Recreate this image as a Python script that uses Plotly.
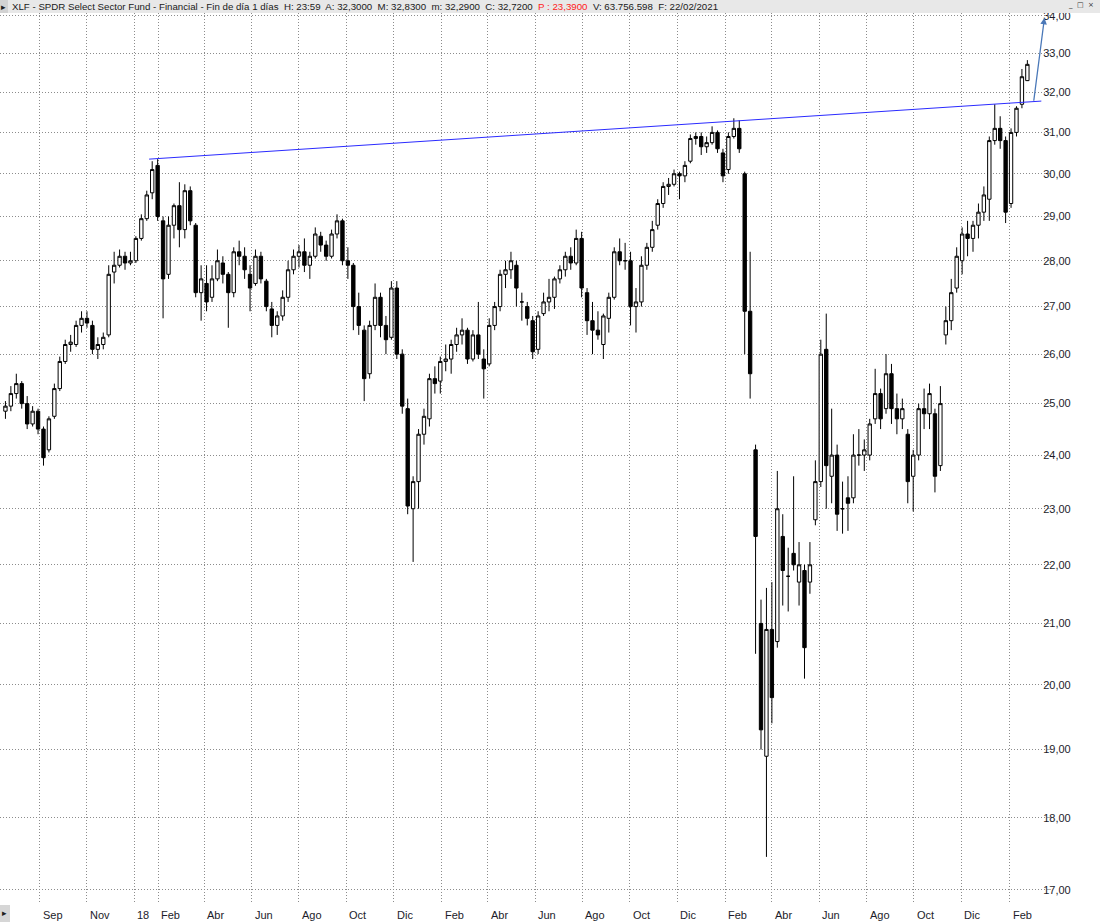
import math
import pandas as pd
import plotly.graph_objects as go

# ---------------- data (weekly candles) ----------------
week_first = "2017-07-19"
opens = [24.85,24.95,25.20,25.40,25.00,24.60,24.85,24.50,24.10,24.75,25.30,25.85,26.20,26.20,26.60,26.75,26.60,26.10,26.20,26.40,
         27.75,27.90,28.10,27.95,28.00,28.50,28.95,29.55,30.20,28.90,27.70,28.80,29.25,28.70,29.60,28.80,27.30,27.50,27.20,27.60,
         27.95,27.70,27.30,28.20,28.10,27.70,27.50,28.10,27.55,26.95,26.60,26.80,27.20,27.80,28.10,28.20,27.90,28.10,28.55,28.35,
         28.10,28.60,28.90,28.00,27.90,27.00,26.50,25.60,26.60,27.20,26.60,26.35,27.40,26.00,24.90,23.00,23.50,24.40,24.70,25.50,
         25.45,25.85,25.90,26.20,26.40,26.50,25.90,26.40,25.90,25.80,26.60,27.00,27.70,27.80,27.90,27.10,27.00,26.70,26.10,26.85,
         27.10,27.20,27.60,27.80,28.10,27.95,28.50,27.30,26.70,26.50,26.20,26.75,27.20,28.20,28.00,28.00,27.00,27.10,27.90,28.30,
         28.80,29.30,29.70,29.75,30.00,29.95,30.30,30.85,30.90,30.65,30.75,31.00,30.50,30.10,30.90,31.10,30.00,26.90,24.10,21.00,
         18.90,20.90,20.70,22.50,21.80,22.20,21.70,21.90,21.70,22.80,23.50,26.10,23.60,24.00,23.00,23.20,23.20,24.00,24.00,24.00,
         24.70,25.20,24.90,25.60,24.90,24.70,24.40,23.60,24.00,24.90,24.80,24.80,23.80,26.40,26.70,27.40,28.00,28.60,28.50,28.80,
         29.10,29.40,30.80,31.10,30.80,29.30,31.00,31.70,32.30]
highs = [25.05,25.35,25.60,25.45,25.15,24.95,24.90,24.55,24.75,25.40,25.95,26.30,26.40,26.70,26.90,26.90,26.70,26.35,26.45,27.90,
         28.20,28.25,28.20,28.20,28.55,29.05,29.60,30.30,30.35,29.00,29.00,29.30,29.80,29.75,29.70,28.85,27.90,27.90,27.90,28.25,
         28.10,27.75,28.30,28.45,28.30,27.90,28.25,28.20,27.60,27.10,26.90,27.35,28.00,28.25,28.35,28.50,28.20,28.75,28.65,28.45,
         28.70,29.05,28.95,28.30,27.95,27.30,26.60,26.70,27.50,27.30,26.80,27.55,27.55,26.10,25.10,23.60,24.50,24.90,25.60,25.75,
         25.95,26.20,26.30,26.55,26.75,26.55,26.50,27.10,26.10,26.75,27.10,27.80,28.00,28.20,28.00,27.30,27.10,26.80,26.90,27.30,
         27.60,27.65,27.90,28.20,28.30,28.70,28.65,27.40,27.10,26.90,26.85,27.30,28.30,28.50,28.40,28.20,27.40,28.10,28.40,28.90,
         29.40,29.80,29.90,30.10,30.05,30.30,30.95,31.00,31.00,30.90,31.15,31.05,30.60,31.00,31.35,31.30,30.05,28.20,24.20,21.40,
         21.60,21.70,23.70,22.90,22.30,23.60,22.40,22.00,22.40,23.90,26.30,26.85,24.90,24.20,23.50,23.60,24.40,24.50,24.30,24.70,
         25.70,25.30,26.00,25.80,25.20,25.10,24.50,24.10,25.00,25.30,25.40,24.90,25.35,27.00,27.60,28.30,28.75,28.90,28.90,29.30,
         29.70,30.90,31.70,31.40,30.90,31.10,31.65,32.60,32.83]
lows = [24.70,24.85,25.10,24.90,24.50,24.55,24.40,23.80,24.05,24.70,25.25,25.80,26.05,26.15,26.45,26.55,26.00,25.90,26.10,26.35,
        27.50,27.85,27.80,27.90,27.95,28.45,28.90,29.40,28.90,26.75,27.60,28.50,28.30,28.50,28.80,27.20,26.70,26.90,27.10,27.55,
        27.50,26.55,27.20,27.90,27.60,26.90,27.45,27.50,26.90,26.35,26.40,26.70,27.10,27.70,27.85,27.75,27.60,28.05,28.20,28.00,
        28.05,28.50,27.90,27.60,26.50,26.40,25.05,25.50,26.50,26.35,26.00,26.30,25.90,24.80,22.90,22.05,23.00,24.20,24.55,25.20,
        25.20,25.65,25.60,26.05,26.20,25.80,25.85,25.90,25.10,25.75,26.50,26.90,27.40,27.60,27.00,26.70,26.60,25.90,26.00,26.80,
        26.90,26.95,27.50,27.65,27.80,27.90,27.20,26.40,26.00,26.30,25.90,26.45,27.15,27.90,27.80,26.60,26.45,27.00,27.80,28.20,
        28.70,29.20,29.50,29.70,29.40,29.80,30.25,30.70,30.45,30.50,30.70,30.50,29.80,30.00,30.85,30.50,26.00,25.10,20.50,19.00,
        17.45,19.40,20.60,21.30,21.20,21.90,21.30,20.10,21.50,22.70,23.40,23.00,23.10,22.60,22.55,22.60,23.10,23.80,23.70,23.90,
        24.60,24.50,24.80,24.60,24.40,24.50,23.10,22.95,23.90,24.50,24.50,23.30,23.70,26.20,26.50,27.30,27.70,28.10,28.20,28.50,
        28.90,28.90,30.70,30.60,28.85,29.20,30.90,31.60,32.29]
closes = [24.95,25.20,25.40,25.00,24.60,24.85,24.50,23.95,24.70,25.30,25.85,26.20,26.25,26.60,26.75,26.65,26.10,26.20,26.35,27.70,
          27.90,28.10,27.95,28.00,28.50,28.95,29.50,30.10,29.00,27.60,28.80,29.25,28.70,29.60,28.90,27.30,27.60,27.10,27.60,28.00,
          27.70,27.30,28.20,28.10,27.80,27.40,28.10,27.60,27.00,26.60,26.80,27.20,27.80,28.10,28.20,27.90,28.10,28.60,28.35,28.10,
          28.60,28.90,28.00,27.90,27.00,26.60,25.50,26.60,27.20,26.60,26.30,27.40,26.00,24.95,23.05,23.50,24.40,24.75,25.50,25.40,
          25.85,25.90,26.20,26.40,26.50,25.90,26.40,26.00,25.70,26.60,27.00,27.70,27.80,28.00,27.40,27.10,26.75,26.05,26.80,27.10,
          27.20,27.60,27.80,28.10,27.95,28.50,27.40,26.70,26.50,26.40,26.80,27.20,28.20,28.00,28.00,27.00,27.10,27.90,28.30,28.70,
          29.30,29.70,29.75,30.00,29.95,30.20,30.85,30.90,30.65,30.75,31.00,30.60,29.95,30.90,31.10,30.60,26.90,25.60,22.50,19.30,
          20.90,19.80,23.00,21.90,21.80,22.00,22.00,20.60,22.00,23.50,26.00,23.80,24.00,22.90,23.00,23.10,24.00,24.00,24.10,24.60,
          25.20,24.70,25.60,24.90,24.70,24.90,23.50,24.00,24.90,24.80,25.20,23.60,25.00,26.70,27.30,28.10,28.60,28.50,28.80,29.10,
          29.50,30.80,31.10,30.80,29.10,31.00,31.60,32.40,32.72]

# blue trend line drawn on the chart, and the blue arrow
trend_dates = ["2018-01-20", "2021-03-14"]
trend_prices = [30.35, 31.78]
arrow_tail = ("2021-03-04", 31.75)
arrow_head = ("2021-03-18", 33.95)

# axis texts
price_ticks = list(range(17, 35))
price_labels = [f"{v},00" for v in price_ticks]
month_ticks = ["2017-09-01", "2017-11-01", "2018-01-01", "2018-02-01", "2018-04-01", "2018-06-01",
               "2018-08-01", "2018-10-01", "2018-12-01", "2019-02-01", "2019-04-01", "2019-06-01",
               "2019-08-01", "2019-10-01", "2019-12-01", "2020-02-01", "2020-04-01", "2020-06-01",
               "2020-08-01", "2020-10-01", "2020-12-01", "2021-02-01"]
month_labels = ["Sep", "Nov", "18", "Feb", "Abr", "Jun", "Ago", "Oct", "Dic", "Feb", "Abr", "Jun",
                "Ago", "Oct", "Dic", "Feb", "Abr", "Jun", "Ago", "Oct", "Dic", "Feb"]

header = ("XLF - SPDR Select Sector Fund - Financial - Fin de día 1 días  H: 23:59  A: 32,3000  "
          "M: 32,8300  m: 32,2900  C: 32,7200  <span style='color:#ff2020'>P : 23,3900</span>  "
          "V: 63.756.598  F: 22/02/2021")

dates = pd.date_range(week_first, periods=len(closes), freq="7D")

# ---------------- layout geometry ----------------
W, H = 1100, 922
ML, MR, MT, MB = 0, 54, 13, 18
PW, PH = W - ML - MR, H - MT - MB
FONT = "Liberation Sans, Arial, sans-serif"
GRID = "#8c8c8c"

fig = go.Figure()
fig.add_trace(go.Candlestick(
    x=dates, open=opens, high=highs, low=lows, close=closes,
    increasing=dict(fillcolor="white", line=dict(color="black", width=1)),
    decreasing=dict(fillcolor="black", line=dict(color="black", width=1)),
    whiskerwidth=0, hoverinfo="skip", showlegend=False,
))
fig.add_trace(go.Scatter(
    x=trend_dates, y=trend_prices, mode="lines",
    line=dict(color="#2b2bff", width=1), hoverinfo="skip", showlegend=False,
))

annotations = []
annotations.append(dict(
    x=arrow_head[0], y=math.log10(arrow_head[1]), ax=arrow_tail[0], ay=math.log10(arrow_tail[1]),
    xref="x", yref="y", axref="x", ayref="y", text="", showarrow=True,
    arrowhead=2, arrowsize=1, arrowwidth=1.3, arrowcolor="#4a78b8",
))
for d, lab in zip(month_ticks, month_labels):
    annotations.append(dict(
        x=d, xref="x", y=-(915 - (MT + PH)) / PH, yref="paper", text=lab, showarrow=False,
        xanchor="left", yanchor="middle", xshift=1,
        font=dict(family=FONT, size=11, color="#1c1c2a"),
    ))
annotations.append(dict(
    x=10 / PW, xref="paper", y=1 + 6.5 / PH, yref="paper", text=header, showarrow=False,
    xanchor="left", yanchor="middle", font=dict(family=FONT, size=9.7, color="#202020"),
))
annotations.append(dict(
    x=3.5 / PW, xref="paper", y=1 + 6.5 / PH, yref="paper", text="▸", showarrow=False,
    xanchor="center", yanchor="middle", font=dict(family="DejaVu Sans", size=9, color="#202020"),
))
for px, sym in [(1070, "_"), (1080, "□"), (1091, "×")]:
    annotations.append(dict(
        x=px / PW, xref="paper", y=1 + 8 / PH, yref="paper", text=sym, showarrow=False,
        xanchor="center", yanchor="middle", font=dict(family="DejaVu Sans", size=7, color="#303030"),
    ))
annotations.append(dict(
    x=4.5 / PW, xref="paper", y=-(913 - (MT + PH)) / PH, yref="paper", text="▸", showarrow=False,
    xanchor="center", yanchor="middle", font=dict(family="DejaVu Sans", size=9, color="#202020"),
))

shapes = [
    dict(type="rect", xref="paper", yref="paper", x0=0, x1=W / PW, y0=1, y1=1 + MT / PH,
         fillcolor="#e8e8e8", line=dict(width=0), layer="above"),
    dict(type="rect", xref="paper", yref="paper", x0=0, x1=8 / PW, y0=1, y1=1 + MT / PH,
         fillcolor="#d2d2d2", line=dict(width=0), layer="above"),
    dict(type="rect", xref="paper", yref="paper", x0=0, x1=10 / PW,
         y0=-(922 - (MT + PH)) / PH, y1=-(905 - (MT + PH)) / PH,
         fillcolor="#d6d6d6", line=dict(width=0), layer="above"),
]

fig.update_layout(
    width=W, height=H, margin=dict(l=ML, r=MR, t=MT, b=MB),
    paper_bgcolor="white", plot_bgcolor="white",
    font=dict(family=FONT, size=11, color="#1c1c2a"),
    showlegend=False, hovermode=False, boxgap=0.12,
    annotations=annotations, shapes=shapes,
    xaxis=dict(
        type="date", range=["2017-07-12", "2021-03-20"],
        rangeslider=dict(visible=False),
        tickmode="array", tickvals=month_ticks, showticklabels=False, ticks="",
        showgrid=True, gridcolor=GRID, griddash="1px,2px", gridwidth=1,
        showline=False, zeroline=False,
    ),
    yaxis=dict(
        type="log", side="right",
        range=[math.log10(16.81), math.log10(34.08)],
        tickmode="array", tickvals=price_ticks, ticktext=price_labels,
        ticks="outside", ticklen=4, tickcolor="#b0b0b0", ticklabelstandoff=-10,
        showgrid=True, gridcolor=GRID, griddash="1px,2px", gridwidth=1,
        showline=False, zeroline=False,
        tickfont=dict(family=FONT, size=11, color="#1c1c2a"),
    ),
)

fig.write_html(
    "out.html",
    config={"displayModeBar": False},
    post_script="document.body.style.margin='0';document.body.style.padding='0';",
)
